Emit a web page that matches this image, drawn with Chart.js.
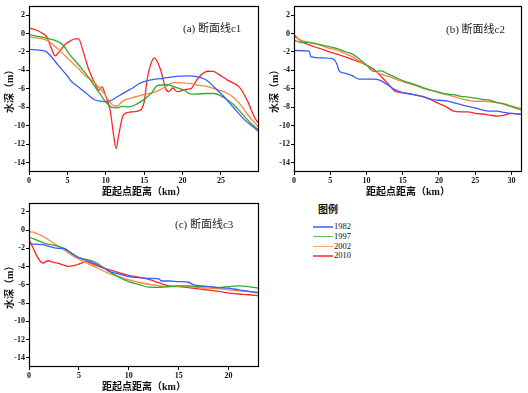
<!DOCTYPE html>
<html><head><meta charset="utf-8">
<script src="https://cdn.jsdelivr.net/npm/chart.js@4.4.0/dist/chart.umd.min.js"></script>
<style>
html,body{margin:0;padding:0;background:#fff;width:528px;height:393px;overflow:hidden;position:relative;}
canvas{position:absolute;}
#legend{position:absolute;left:306px;top:202px;width:60px;}
#legend .ttl{font:bold 10px "Noto Sans CJK SC",sans-serif;margin-left:12px;height:20px;line-height:14px;color:#111;}
#legend .row{height:9.8px;position:relative;}
#legend .ln{position:absolute;left:7px;top:4px;width:20px;height:1.5px;}
#legend .lb{position:absolute;left:28px;top:-1px;font:8.5px "Liberation Serif",serif;line-height:10px;color:#111;}
</style></head><body>
<canvas id="ca" width="265" height="198" style="left:0;top:0"></canvas>
<canvas id="cb" width="263" height="198" style="left:265px;top:0"></canvas>
<canvas id="cc" width="265" height="196" style="left:0;top:197px"></canvas>
<div id="legend"></div>
<script>
// ---------- data ----------
const SERIES = ['1982', '1997', '2002', '2010'];
const COLORS = ['#3a5cff', '#35a935', '#ff8440', '#ff2626'];
const PANEL_TITLES = ['(a) 断面线c1', '(b) 断面线c2', '(c) 断面线c3'];
const LEGEND_TITLE = '图例';
const X_TITLE = '距起点距离（km）';
const Y_TITLE = '水深（m）';
const Y_TICKS = [-14, -12, -10, -8, -6, -4, -2, 0, 2];

// panel (a) c1
const A_X_1982 = [0, 2.1, 3, 3.84, 5, 5.6, 6.45, 7.5, 8.6, 9.5, 10.2, 10.8, 11.5, 12.6, 13.5, 14.3, 15, 16.5, 17.5, 18.5, 19.8, 21, 21.7, 22.8, 23.5, 24.1, 25.4, 26.7, 28.05, 29, 29.9];
const A_Y_1982 = [-1.72, -1.9, -2.6, -3.48, -4.6, -5.26, -5.79, -6.5, -7.2, -7.35, -7.4, -7.2, -6.85, -6.32, -5.9, -5.44, -5.2, -4.95, -4.85, -4.72, -4.62, -4.6, -4.65, -4.9, -5.3, -5.8, -6.85, -8.1, -9.33, -10.0, -10.6];
const A_X_1997 = [0, 2.1, 3.84, 4.5, 5.1, 6, 6.9, 7.8, 8.6, 9.3, 9.95, 10.8, 11.5, 12.1, 13, 13.9, 15.2, 16, 16.7, 18, 19, 20.2, 21.1, 22, 23, 24.1, 25.4, 26.7, 28.05, 29, 29.9];
const A_Y_1997 = [-0.13, -0.48, -0.9, -1.3, -2.07, -2.95, -3.84, -4.8, -5.79, -6.6, -7.38, -8.0, -8.05, -7.9, -7.95, -7.7, -7.0, -6.4, -5.65, -5.55, -5.8, -6.14, -6.57, -6.55, -6.5, -6.5, -6.96, -7.74, -8.98, -9.8, -10.45];
const A_X_2002 = [0, 2.1, 3, 3.84, 4.7, 5.6, 6.5, 7.3, 8.2, 9.07, 9.8, 10.4, 11.0, 11.5, 12.1, 13, 13.9, 15, 16.5, 17.5, 18.9, 20, 21.1, 21.9, 23, 24.1, 25.9, 27.2, 28.5, 29.3, 29.9];
const A_Y_2002 = [-0.37, -0.66, -1.1, -1.72, -2.4, -3.13, -3.85, -4.55, -5.1, -5.79, -6.5, -7.3, -7.8, -7.85, -7.38, -7.05, -6.85, -6.6, -6.32, -5.9, -5.33, -5.35, -5.44, -5.6, -5.7, -5.97, -6.5, -7.38, -8.8, -9.6, -10.15];
const A_X_2010 = [0, 1, 1.66, 2.3, 2.97, 3.4, 3.84, 4.7, 5.4, 6.0, 6.45, 7.1, 7.76, 8.6, 9.07, 9.5, 9.95, 10.6, 11.0, 11.35, 11.7, 12.3, 13.2, 14.5, 15.0, 15.4, 15.8, 16.3, 17.1, 17.8, 18.2, 18.7, 19.3, 20.6, 21.1, 21.95, 23.25, 24.0, 24.6, 25.9, 27.4, 28.5, 29.4, 29.9];
const A_Y_2010 = [0.59, 0.35, 0.06, -0.37, -1.72, -2.42, -2.07, -1.19, -0.8, -0.58, -0.58, -2.07, -3.84, -5.44, -6.14, -5.79, -6.67, -8.45, -10.9, -12.45, -10.9, -8.8, -8.5, -8.3, -7.4, -4.9, -3.48, -2.65, -3.84, -5.97, -6.3, -5.9, -6.3, -6.04, -5.97, -4.9, -4.09, -4.1, -4.37, -5.08, -5.8, -7.38, -9.15, -9.7];

// panel (b) c2
const B_X_1982 = [0, 2.1, 2.3, 4, 5.5, 5.9, 6.2, 6.5, 7, 8, 9, 10, 11, 11.8, 12.5, 13, 13.7, 14.6, 15, 16, 17, 18, 19, 20, 21, 22, 23, 24, 25, 26, 27, 28, 29, 30, 31.4];
const B_Y_1982 = [-1.84, -1.9, -2.5, -2.65, -2.8, -3.3, -4.0, -4.2, -4.3, -4.57, -4.95, -4.95, -4.95, -5.06, -5.35, -5.6, -6.0, -6.3, -6.4, -6.56, -6.7, -6.88, -7.13, -7.23, -7.3, -7.48, -7.7, -7.9, -8.05, -8.3, -8.4, -8.4, -8.55, -8.65, -8.76];
const B_X_STD = [0, 1, 2, 3, 4, 5, 6, 7, 8, 9, 10, 11, 12, 13, 14, 15, 16, 17, 18, 19, 20, 21, 22, 23, 24, 25, 26, 27, 28, 29, 30, 31.4];
const B_Y_1997 = [-0.7, -0.98, -0.96, -1.1, -1.28, -1.45, -1.63, -1.95, -2.2, -2.75, -3.4, -4.1, -4.05, -4.4, -4.75, -5.1, -5.35, -5.62, -5.92, -6.17, -6.35, -6.55, -6.63, -6.8, -6.88, -7.0, -7.13, -7.23, -7.48, -7.62, -7.87, -8.2];
const B_Y_2002 = [-0.32, -0.74, -0.96, -1.13, -1.38, -1.63, -1.8, -2.16, -2.5, -2.98, -3.44, -4.04, -4.4, -4.65, -4.93, -5.2, -5.46, -5.7, -6.0, -6.17, -6.42, -6.63, -6.8, -7.06, -7.23, -7.34, -7.34, -7.4, -7.48, -7.7, -7.94, -8.3];
const B_Y_2010 = [-0.14, -0.85, -1.2, -1.49, -1.74, -2.02, -2.27, -2.5, -2.8, -3.08, -3.44, -3.87, -4.65, -5.46, -6.28, -6.42, -6.52, -6.7, -6.88, -7.23, -7.6, -7.94, -8.4, -8.48, -8.48, -8.65, -8.72, -8.83, -8.95, -8.83, -8.65, -8.76];

// panel (c) c3
const C_X_1982 = [0, 1.4, 2, 3, 3.5, 3.9, 4.6, 5.27, 6, 6.6, 7.6, 8, 9, 10, 11, 12, 13, 13.3, 14, 15, 16, 16.5, 17, 18, 19, 20, 21, 22, 23];
const C_Y_1982 = [-1.52, -1.59, -1.77, -2.0, -1.98, -2.23, -2.77, -3.13, -3.4, -3.67, -4.2, -4.5, -4.8, -5.1, -5.2, -5.28, -5.35, -5.57, -5.57, -5.64, -5.71, -6.0, -6.07, -6.18, -6.29, -6.36, -6.54, -6.72, -6.9];
const C_X_1997 = [0, 1.6, 3.25, 4.9, 6.6, 8, 9, 10, 11, 12, 13, 14, 15, 16, 17, 18, 19, 20, 21, 22, 23];
const C_Y_1997 = [-0.75, -1.44, -1.88, -2.95, -3.49, -4.5, -5.15, -5.65, -5.95, -6.25, -6.28, -6.18, -6.1, -6.1, -6.18, -6.18, -6.29, -6.18, -6.1, -6.18, -6.36];
const C_X_2002 = [0, 0.57, 1.6, 2.6, 3.6, 4.6, 5.6, 6.6, 8, 9, 10, 11, 12, 13, 14, 15, 16, 17, 18, 19, 20, 21, 22, 23];
const C_Y_2002 = [-0.15, -0.26, -0.8, -1.52, -2.23, -2.95, -3.49, -4.03, -4.75, -5.1, -5.46, -5.71, -5.93, -6.1, -6.2, -6.15, -6.18, -6.29, -6.36, -6.43, -6.54, -6.65, -6.72, -6.79];
const C_X_2010 = [0, 1.4, 1.9, 2.4, 3.25, 3.9, 4.6, 5.27, 5.6, 6.6, 7.6, 8.5, 9, 10, 11, 12, 13, 14, 15, 16, 17, 18, 19, 20, 21, 22, 23];
const C_Y_2010 = [-1.05, -3.6, -3.35, -3.5, -3.74, -3.96, -3.85, -3.6, -3.45, -3.8, -4.2, -4.5, -4.65, -4.95, -5.15, -5.4, -5.75, -6.1, -6.18, -6.29, -6.43, -6.58, -6.72, -6.9, -7.0, -7.08, -7.19];

const X_MAX = [29.95, 31.45, 23.05];

// ---------- rendering ----------
const pts = (xs, ys) => xs.map((x, i) => ({x: x, y: ys[i]}));

const framePlugin = {
  id: 'frame',
  afterDraw(chart, args, opts) {
    const a = chart.chartArea, ctx = chart.ctx;
    ctx.save();
    ctx.strokeStyle = '#000';
    ctx.lineWidth = 1.2;
    ctx.strokeRect(Math.round(a.left) + 0.5, Math.round(a.top) + 0.5,
                   Math.round(a.right - a.left) - 1, Math.round(a.bottom - a.top) - 1);
    if (opts.text) {
      ctx.fillStyle = '#222';
      ctx.font = '11px "Liberation Serif", "Noto Sans CJK SC", serif';
      ctx.textBaseline = 'middle';
      ctx.textAlign = 'left';
      ctx.fillText(opts.text, a.left + opts.dx, a.top + opts.dy);
    }
    ctx.restore();
  }
};

function makeChart(id, xs, ys, xmax, title, dx, dy, padTop) {
  const datasets = SERIES.map((s, i) => ({
    label: s,
    data: pts(xs[i], ys[i]),
    borderColor: COLORS[i],
    backgroundColor: COLORS[i],
    borderWidth: 1.3,
    pointRadius: 0,
    cubicInterpolationMode: 'monotone',
    fill: false
  }));
  const tickFont = {family: '"Liberation Serif", serif', size: 8, weight: 'bold'};
  const titleFont = {family: '"Liberation Serif", "Noto Sans CJK SC", serif', size: 10, weight: 'bold'};
  return new Chart(document.getElementById(id), {
    type: 'line',
    data: {datasets: datasets},
    plugins: [framePlugin],
    options: {
      responsive: false,
      devicePixelRatio: 1,
      animation: false,
      layout: {padding: {left: 4, top: padTop, right: 6, bottom: 0}},
      plugins: {
        legend: {display: false},
        tooltip: {enabled: false},
        frame: {text: title, dx: dx, dy: dy}
      },
      scales: {
        x: {
          type: 'linear', min: 0, max: xmax,
          border: {display: false},
          grid: {display: true, drawOnChartArea: false, drawTicks: true, tickLength: 3, color: '#000'},
          ticks: {stepSize: 5, includeBounds: false, autoSkip: false, maxRotation: 0, padding: 1,
                  color: '#111', font: tickFont},
          title: {display: true, text: X_TITLE, color: '#111', font: titleFont, padding: 0},
          afterFit: (s) => { s.height = 26; }
        },
        y: {
          type: 'linear', min: -15, max: 3,
          border: {display: false},
          grid: {display: true, drawOnChartArea: false, drawTicks: true, tickLength: 3, color: '#000'},
          afterBuildTicks: (s) => { s.ticks = Y_TICKS.map(v => ({value: v})); },
          ticks: {autoSkip: false, padding: 1, color: '#111', font: tickFont},
          title: {display: true, text: Y_TITLE, color: '#111', font: titleFont, padding: 0},
          afterFit: (s) => { s.width = 25; }
        }
      }
    }
  });
}

makeChart('ca', [A_X_1982, A_X_1997, A_X_2002, A_X_2010], [A_Y_1982, A_Y_1997, A_Y_2002, A_Y_2010],
          X_MAX[0], PANEL_TITLES[0], 154, 23, 2);
makeChart('cb', [B_X_1982, B_X_STD, B_X_STD, B_X_STD], [B_Y_1982, B_Y_1997, B_Y_2002, B_Y_2010],
          X_MAX[1], PANEL_TITLES[1], 152, 24, 2);
makeChart('cc', [C_X_1982, C_X_1997, C_X_2002, C_X_2010], [C_Y_1982, C_Y_1997, C_Y_2002, C_Y_2010],
          X_MAX[2], PANEL_TITLES[2], 146, 22, 2);

// legend
const lg = document.getElementById('legend');
const t = document.createElement('div');
t.className = 'ttl'; t.textContent = LEGEND_TITLE; lg.appendChild(t);
SERIES.forEach((s, i) => {
  const r = document.createElement('div'); r.className = 'row';
  const l = document.createElement('div'); l.className = 'ln'; l.style.background = COLORS[i]; l.style.opacity = 0.75;
  const b = document.createElement('div'); b.className = 'lb'; b.textContent = s;
  r.appendChild(l); r.appendChild(b); lg.appendChild(r);
});
</script>
</body></html>
